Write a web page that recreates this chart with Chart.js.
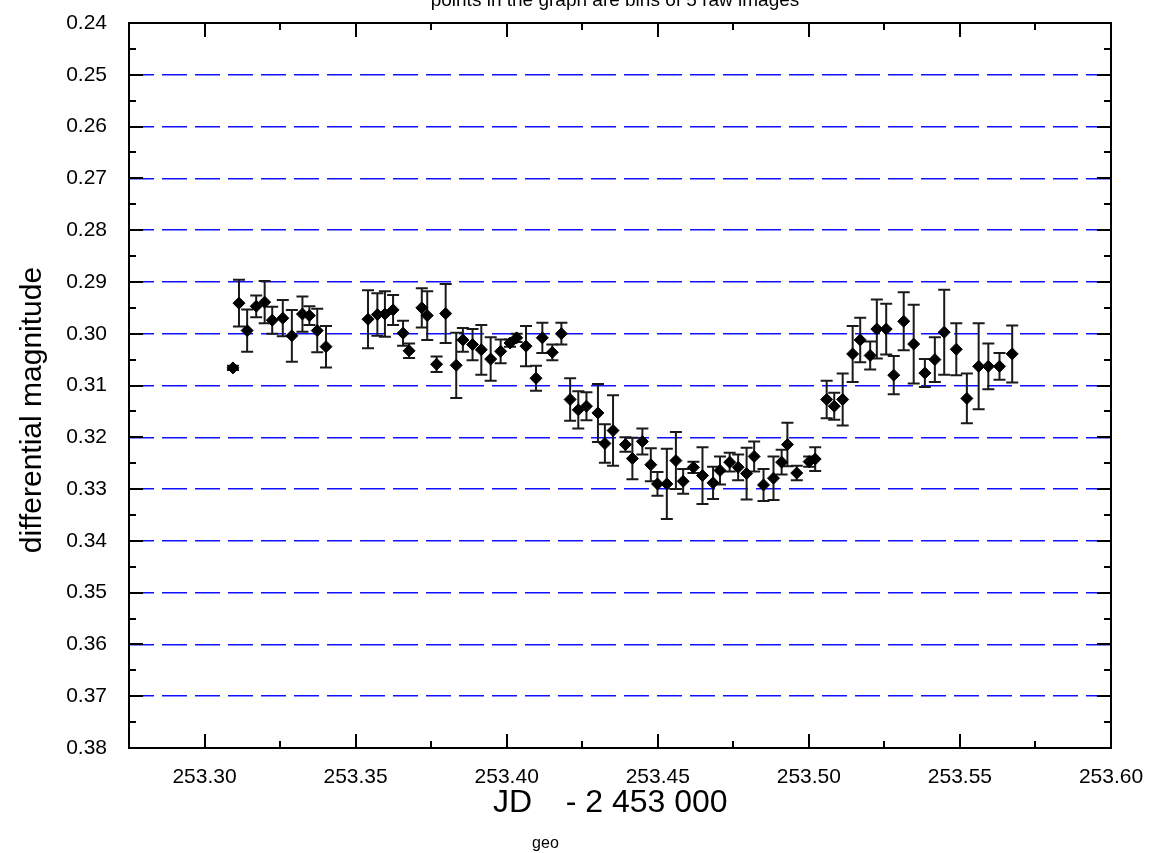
<!DOCTYPE html>
<html>
<head>
<meta charset="utf-8">
<script src="https://cdn.jsdelivr.net/npm/chart.js@4.4.1/dist/chart.umd.min.js"></script>
<style>
  html, body { margin: 0; padding: 0; background: #fff; overflow: hidden; }
  canvas { display: block; }
</style>
</head>
<body>
<canvas id="lightCurve" width="1159" height="853"></canvas>
<script>
// binned light curve (5 raw images per bin)
const jd = [
  253.3094, 253.3114, 253.3141, 253.3171, 253.3199, 253.3224, 253.3259, 253.3289, 253.3324, 253.3347,
  253.3373, 253.3402, 253.3541, 253.3572, 253.3597, 253.3624, 253.3657, 253.3677, 253.3719, 253.3737,
  253.3768, 253.3798, 253.3833, 253.3855, 253.3887, 253.3916, 253.3947, 253.3980, 253.4011, 253.4033,
  253.4064, 253.4097, 253.4118, 253.4151, 253.4181, 253.4210, 253.4237, 253.4264, 253.4302, 253.4325,
  253.4352, 253.4393, 253.4416, 253.4449, 253.4477, 253.4499, 253.4530, 253.4560, 253.4584, 253.4618,
  253.4648, 253.4683, 253.4706, 253.4738, 253.4766, 253.4794, 253.4819, 253.4850, 253.4883, 253.4910,
  253.4929, 253.4960, 253.5001, 253.5021, 253.5059, 253.5084, 253.5112, 253.5145, 253.5170, 253.5203,
  253.5225, 253.5256, 253.5281, 253.5314, 253.5347, 253.5384, 253.5417, 253.5448, 253.5488, 253.5523,
  253.5562, 253.5594, 253.5631, 253.5673
];
const mag = [
  0.3066, 0.2941, 0.2994, 0.2947, 0.2939, 0.2974, 0.2970, 0.3004, 0.2962, 0.2965,
  0.2994, 0.3025, 0.2972, 0.2963, 0.2962, 0.2954, 0.2999, 0.3033, 0.2950, 0.2965,
  0.3059, 0.2961, 0.3061, 0.3012, 0.3021, 0.3031, 0.3049, 0.3034, 0.3018, 0.3008,
  0.3024, 0.3086, 0.3008, 0.3036, 0.3000, 0.3127, 0.3147, 0.3140, 0.3153, 0.3212,
  0.3187, 0.3214, 0.3241, 0.3208, 0.3253, 0.3290, 0.3290, 0.3245, 0.3285, 0.3258,
  0.3274, 0.3288, 0.3264, 0.3248, 0.3258, 0.3270, 0.3237, 0.3292, 0.3279, 0.3248,
  0.3214, 0.3269, 0.3247, 0.3242, 0.3127, 0.3140, 0.3127, 0.3039, 0.3012, 0.3042,
  0.2991, 0.2991, 0.3080, 0.2976, 0.3020, 0.3076, 0.3050, 0.2997, 0.3030, 0.3125,
  0.3063, 0.3063, 0.3063, 0.3039
];
const magErr = [
  0.0004, 0.0045, 0.0041, 0.0021, 0.0041, 0.0026, 0.0035, 0.0050, 0.0034, 0.0018,
  0.0042, 0.0040, 0.0056, 0.0041, 0.0044, 0.0029, 0.0024, 0.0014, 0.0038, 0.0047,
  0.0015, 0.0057, 0.0063, 0.0023, 0.0030, 0.0048, 0.0042, 0.0023, 0.0007, 0.0008,
  0.0039, 0.0024, 0.0029, 0.0015, 0.0021, 0.0041, 0.0036, 0.0027, 0.0056, 0.0037,
  0.0068, 0.0014, 0.0040, 0.0025, 0.0032, 0.0023, 0.0068, 0.0055, 0.0024, 0.0011,
  0.0055, 0.0031, 0.0027, 0.0018, 0.0025, 0.0050, 0.0029, 0.0031, 0.0042, 0.0024,
  0.0042, 0.0014, 0.0010, 0.0023, 0.0036, 0.0026, 0.0050, 0.0054, 0.0043, 0.0027,
  0.0057, 0.0049, 0.0037, 0.0056, 0.0076, 0.0027, 0.0043, 0.0082, 0.0050, 0.0048,
  0.0083, 0.0044, 0.0026, 0.0055
];
const xTicks = [253.30, 253.35, 253.40, 253.45, 253.50, 253.55, 253.60];
const xMinor = [253.275, 253.325, 253.375, 253.425, 253.475, 253.525, 253.575];
const yTicks = [0.24, 0.25, 0.26, 0.27, 0.28, 0.29, 0.30, 0.31, 0.32, 0.33, 0.34, 0.35, 0.36, 0.37, 0.38];
const yMinor = [0.245, 0.255, 0.265, 0.275, 0.285, 0.295, 0.305, 0.315, 0.325, 0.335, 0.345, 0.355, 0.365, 0.375];

const sans = '"Liberation Sans", Arial, sans-serif';

// error bars under the markers
const errorBars = {
  id: 'errorBars',
  beforeDatasetsDraw(chart) {
    const {ctx, scales: {x, y}} = chart;
    ctx.save();
    ctx.strokeStyle = '#1a1a1a';
    ctx.lineWidth = 2;
    jd.forEach((v, i) => {
      const px = x.getPixelForValue(v);
      const top = y.getPixelForValue(mag[i] - magErr[i]);
      const bot = y.getPixelForValue(mag[i] + magErr[i]);
      ctx.beginPath();
      ctx.moveTo(px, top); ctx.lineTo(px, bot);
      ctx.moveTo(px - 6, top); ctx.lineTo(px + 6, top);
      ctx.moveTo(px - 6, bot); ctx.lineTo(px + 6, bot);
      ctx.stroke();
    });
    ctx.restore();
  }
};

// box frame, inward ticks and axis titles
const frame = {
  id: 'frame',
  afterDraw(chart) {
    const {ctx, chartArea: a, scales: {x, y}} = chart;
    ctx.save();
    ctx.strokeStyle = '#000';
    ctx.lineWidth = 2;
    ctx.strokeRect(a.left, a.top, a.right - a.left, a.bottom - a.top);
    ctx.beginPath();
    const tickX = (vals, len) => vals.forEach(v => {
      const px = Math.round(x.getPixelForValue(v));
      ctx.moveTo(px, a.bottom); ctx.lineTo(px, a.bottom - len);
      ctx.moveTo(px, a.top); ctx.lineTo(px, a.top + len);
    });
    const tickY = (vals, len) => vals.forEach(v => {
      const py = Math.round(y.getPixelForValue(v));
      ctx.moveTo(a.left, py); ctx.lineTo(a.left + len, py);
      ctx.moveTo(a.right, py); ctx.lineTo(a.right - len, py);
    });
    tickX(xTicks, 14); tickX(xMinor, 7);
    tickY(yTicks, 14); tickY(yMinor, 7);
    ctx.stroke();

    // title, cut by the top edge
    ctx.fillStyle = '#000';
    ctx.textAlign = 'center';
    ctx.textBaseline = 'alphabetic';
    ctx.font = '19px ' + sans;
    ctx.fillText('points in the graph are bins of 5 raw images', 615, 6);

    // y title
    ctx.save();
    ctx.translate(33, 410);
    ctx.rotate(-Math.PI / 2);
    ctx.font = '30px ' + sans;
    ctx.textBaseline = 'middle';
    ctx.fillText('differential magnitude', 0, 0);
    ctx.restore();

    // x title with subscript
    const big = '32px ' + sans, small = '16px ' + sans;
    ctx.font = big;
    const w1 = ctx.measureText('JD').width;
    ctx.font = small;
    const w2 = ctx.measureText('geo').width;
    const sx = 493;
    ctx.textAlign = 'left';
    ctx.font = big;
    ctx.fillText('JD', sx, 812);
    ctx.font = small;
    ctx.fillText('geo', sx + w1, 848);
    ctx.font = big;
    ctx.fillText(' - 2 453 000', sx + w1 + w2 - 2, 812);
    ctx.restore();
  }
};

new Chart(document.getElementById('lightCurve').getContext('2d'), {
  type: 'scatter',
  data: {
    datasets: [{
      label: 'differential magnitude',
      data: jd.map((v, i) => ({x: v, y: mag[i]})),
      pointStyle: 'rectRot',
      pointRadius: 6,
      pointBackgroundColor: '#000',
      pointBorderColor: '#000',
      pointBorderWidth: 1
    }]
  },
  options: {
    responsive: false,
    animation: false,
    layout: { padding: { top: 23, right: 48, left: 0, bottom: 0 } },
    plugins: { legend: { display: false }, tooltip: { enabled: false } },
    scales: {
      x: {
        type: 'linear',
        min: 253.275,
        max: 253.60,
        afterBuildTicks: s => { s.ticks = xTicks.map(v => ({value: v})); },
        afterFit: s => { s.height = 105; s.paddingLeft = 0; s.paddingRight = 0; },
        grid: { display: false, drawTicks: false },
        border: { display: false },
        ticks: {
          padding: 17,
          color: '#000',
          font: { family: sans, size: 21 },
          callback: v => v.toFixed(2)
        }
      },
      y: {
        type: 'linear',
        reverse: true,
        min: 0.24,
        max: 0.38,
        afterBuildTicks: s => { s.ticks = yTicks.map(v => ({value: v})); },
        afterFit: s => { s.width = 129; s.paddingTop = 0; s.paddingBottom = 0; },
        grid: {
          drawTicks: false,
          lineWidth: 1.5,
          color: c => (c.tick && c.tick.value > 0.245 && c.tick.value < 0.375) ? '#1010ff' : 'rgba(0,0,0,0)'
        },
        border: { display: false, dash: [25, 8] },
        ticks: {
          padding: 22,
          color: '#000',
          font: { family: sans, size: 21 },
          callback: v => v.toFixed(2)
        }
      }
    }
  },
  plugins: [errorBars, frame]
});
</script>
</body>
</html>
